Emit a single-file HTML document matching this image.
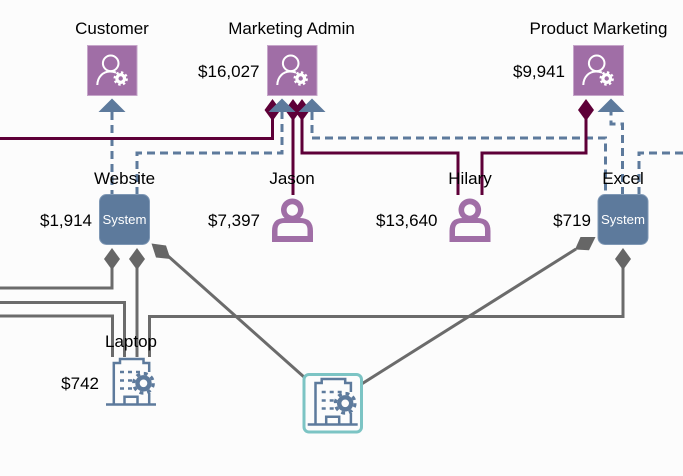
<!DOCTYPE html>
<html><head><meta charset="utf-8"><style>
html,body{margin:0;padding:0;background:#fcfcfc}
svg{display:block}
text{font-family:"Liberation Sans",Arial,sans-serif;font-size:17px;fill:#000}
.m{text-anchor:middle}.e{text-anchor:end}
.sys{font-size:13.2px;fill:#fff;text-anchor:middle}
</style></head><body>
<svg width="683" height="476" viewBox="0 0 683 476" xmlns="http://www.w3.org/2000/svg">
<defs>
<g id="admin">
<circle cx="110.700" cy="63.300" r="7.800" fill="none" stroke="#fff" stroke-width="2"/>
<path d="M97.300 85C97.500 77 103 71.500 110 71.500Q113 71.500 116 72.500" fill="none" stroke="#fff" stroke-width="2"/>
<circle cx="120.700" cy="78.500" r="3.800" fill="none" stroke="#fff" stroke-width="3.200"/>
<circle cx="120.700" cy="78.500" r="6" fill="none" stroke="#fff" stroke-width="2.400" stroke-dasharray="2.400 2.310"/>
</g>
<g id="person" fill="#a06ea6">
<path fill-rule="evenodd" d="M292.300 198.500a11.300 11.300 0 1 0 0.010 0ZM292.300 204.300a5.700 5.700 0 1 1 -0.010 0Z"/>
<path fill-rule="evenodd" d="M272 242V231Q272 218 285 218H300Q313 218 313 231V242ZM277.500 236H307.500V230Q307.500 223 301 223H284Q277.500 223 277.500 230Z"/>
</g>
<g id="bldg" fill="none" stroke="#5d7a9c">
<path d="M106 404.500H156" stroke-width="2.600"/>
<path d="M113.800 404V363H120V359H143.500V363H149.200V372M149.200 393V404" stroke-width="2.500"/>
<path d="M124.500 404V396.800H137.500V404" stroke-width="2.500"/>
<path d="M120 372h4M128 372h4M136 372h4M120 380.500h4M128 380.500h4M120 388.500h4M128 388.500h4" stroke-width="2.500"/>
<circle cx="143.500" cy="383.300" r="6" stroke-width="4.400"/>
<circle cx="143.500" cy="383.300" r="9.800" stroke-width="3.200" stroke-dasharray="3.900 3.800"/>
</g>
</defs>
<rect width="683" height="476" fill="#fcfcfc"/>

<!-- gray connectors -->
<g fill="none" stroke="#6b6b6b" stroke-width="3">
<path d="M0 288H112V268"/>
<path d="M0 302.500H124.500V357"/>
<path d="M0 316H112.500V357"/>
<path d="M137 268V357"/>
<path d="M149.500 357V316.500H623V268"/>
<path d="M168 256L304 377"/>
<path d="M360 385L576 249"/>
</g>
<g fill="#666">
<path d="M112 248L120 259L112 270L104 259Z"/>
<path d="M137 248L145 259L137 270L129 259Z"/>
<path d="M623 248L631 259L623 270L615 259Z"/>
<path d="M151.500 243.500L166 245.500L170.500 259L156 257.500Z"/>
<path d="M595.500 237L580.500 237L575 249.500L589 250.300Z"/>
</g>

<!-- dashed connectors -->
<g fill="none" stroke="#5d7a9c" stroke-width="3" stroke-dasharray="8 5">
<path d="M112 112V195"/>
<path d="M137 195V153H282V112"/>
<path d="M312 112V138H605.500V195"/>
<path d="M622.500 195V124H611V112"/>
<path d="M639 195V153H683"/>
</g>

<!-- dark connectors -->
<g fill="none" stroke="#5e0038" stroke-width="3">
<path d="M0 138.500H272.500V118"/>
<path d="M293 118V195"/>
<path d="M302 118V153H458V195"/>
<path d="M482 195V153H586V118"/>
</g>
<g fill="#5e0038">
<path d="M272.500 99L280.500 110L272.500 121L264.500 110Z"/>
<path d="M293 99L301 110L293 121L285 110Z"/>
<path d="M302 99L310 110L302 121L294 110Z"/>
<path d="M586 99L594 110L586 121L578 110Z"/>
</g>
<g fill="#5d7a9c">
<path d="M112 98.500L125.500 112H98.500Z"/>
<path d="M282 98.500L295.500 112H268.500Z"/>
<path d="M312 98.500L325.500 112H298.500Z"/>
<path d="M611 98.500L624.500 112H597.500Z"/>
</g>

<!-- admin boxes -->
<g fill="#a06ea6" stroke="#c6a6ca" stroke-width="1">
<rect x="87.500" y="45.500" width="49.500" height="50"/>
<rect x="267.500" y="45.500" width="49.500" height="50"/>
<rect x="573.500" y="45.500" width="50" height="50"/>
</g>
<use href="#admin"/>
<use href="#admin" x="180"/>
<use href="#admin" x="486"/>

<!-- system boxes -->
<g fill="#5d7a9c" stroke="#7f98b5" stroke-width="1">
<rect x="99.500" y="194.500" width="50" height="50" rx="7"/>
<rect x="598" y="194.500" width="50" height="50" rx="7"/>
</g>
<text class="sys" x="124.500" y="224">System</text>
<text class="sys" x="623" y="224">System</text>

<!-- persons -->
<use href="#person"/>
<use href="#person" x="177.500"/>

<!-- buildings -->
<use href="#bldg"/>
<rect x="304" y="374.500" width="57.500" height="57.500" rx="5" fill="#fcfcfc" stroke="#7cc4c4" stroke-width="3"/>
<use href="#bldg" x="201.700" y="20"/>

<!-- labels -->
<text class="m" x="112" y="34">Customer</text>
<text class="m" x="291.500" y="34">Marketing Admin</text>
<text class="m" x="598.500" y="34">Product Marketing</text>
<text class="m" x="124.500" y="184">Website</text>
<text class="m" x="292" y="184">Jason</text>
<text class="m" x="470" y="184">Hilary</text>
<text class="m" x="623" y="184">Excel</text>
<text class="m" x="131" y="347">Laptop</text>
<text class="e" x="259.500" y="77">$16,027</text>
<text class="e" x="565" y="77">$9,941</text>
<text class="e" x="92" y="226">$1,914</text>
<text class="e" x="260" y="226">$7,397</text>
<text class="e" x="437.500" y="226">$13,640</text>
<text class="e" x="591" y="226">$719</text>
<text class="e" x="99" y="389">$742</text>
</svg>
</body></html>
